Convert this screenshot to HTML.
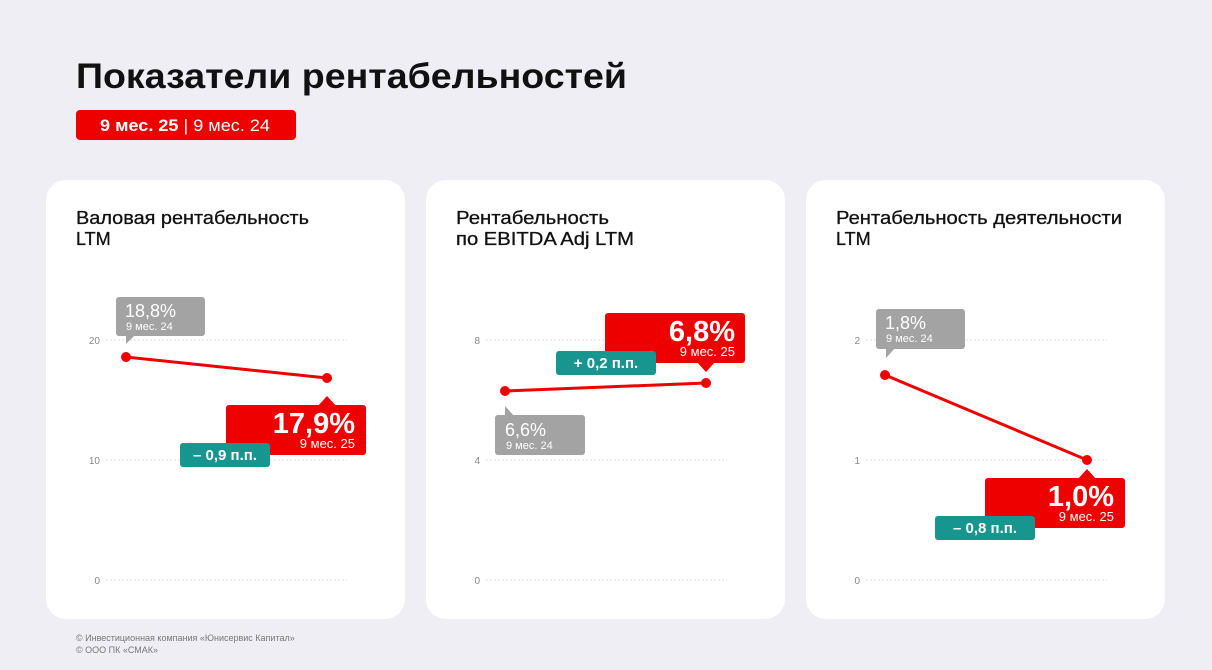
<!DOCTYPE html>
<html><head><meta charset="utf-8"><style>
html,body{margin:0;padding:0;background:#efeef5;}
svg{display:block;font-family:"Liberation Sans",sans-serif;}
</style></head><body>
<svg width="1212" height="670" viewBox="0 0 1212 670" xmlns="http://www.w3.org/2000/svg">
<rect width="1212" height="670" fill="#efeef5"/>
<text x="76" y="88" font-size="35" font-weight="bold" fill="#111" textLength="551" lengthAdjust="spacingAndGlyphs">Показатели рентабельностей</text>
<rect x="76" y="110" width="220" height="30" rx="4" fill="#ee0000"/>
<text x="100" y="131" font-size="17" fill="#fff" textLength="170" lengthAdjust="spacingAndGlyphs"><tspan font-weight="bold">9 мес. 25</tspan> | 9 мес. 24</text>

<g fill="#fff">
<rect x="46" y="180" width="359" height="439" rx="20"/>
<rect x="426" y="180" width="359" height="439" rx="20"/>
<rect x="806" y="180" width="359" height="439" rx="20"/>
</g>

<g font-size="18" fill="#111" stroke="#111" stroke-width="0.3">
<text x="76" y="224" textLength="233" lengthAdjust="spacingAndGlyphs">Валовая рентабельность</text>
<text x="76" y="245">LTM</text>
<text x="456" y="224" textLength="153" lengthAdjust="spacingAndGlyphs">Рентабельность</text>
<text x="456" y="245" textLength="178" lengthAdjust="spacingAndGlyphs">по EBITDA Adj LTM</text>
<text x="836" y="224" textLength="286" lengthAdjust="spacingAndGlyphs">Рентабельность деятельности</text>
<text x="836" y="245">LTM</text>
</g>

<g stroke="#dcdce0" stroke-width="1" stroke-dasharray="2,2">
<line x1="106" y1="340" x2="347" y2="340"/><line x1="106" y1="460" x2="347" y2="460"/><line x1="106" y1="580" x2="347" y2="580"/>
<line x1="486" y1="340" x2="727" y2="340"/><line x1="486" y1="460" x2="727" y2="460"/><line x1="486" y1="580" x2="727" y2="580"/>
<line x1="866" y1="340" x2="1107" y2="340"/><line x1="866" y1="460" x2="1107" y2="460"/><line x1="866" y1="580" x2="1107" y2="580"/>
</g>
<g font-size="10" fill="#888" text-anchor="end">
<text x="100" y="344">20</text><text x="100" y="464">10</text><text x="100" y="584">0</text>
<text x="480" y="344">8</text><text x="480" y="464">4</text><text x="480" y="584">0</text>
<text x="860" y="344">2</text><text x="860" y="464">1</text><text x="860" y="584">0</text>
</g>

<g stroke="#ee0000" stroke-width="3"><line x1="126" y1="357" x2="327" y2="378"/><line x1="505" y1="391" x2="706" y2="383"/><line x1="885" y1="375" x2="1087" y2="460"/></g>
<g fill="#ee0000"><circle cx="126" cy="357" r="5"/><circle cx="327" cy="378" r="5"/><circle cx="505" cy="391" r="5"/><circle cx="706" cy="383" r="5"/><circle cx="885" cy="375" r="5"/><circle cx="1087" cy="460" r="5"/></g>

<g fill="#a3a3a3">
<rect x="116" y="297" width="89" height="39" rx="3"/><polygon points="126,334 126,344 136,334"/>
<rect x="495" y="415" width="90" height="40" rx="3"/><polygon points="505,417 505,406 515,417"/>
<rect x="876" y="309" width="89" height="40" rx="3"/><polygon points="886,347 886,358 896,347"/>
</g>
<g fill="#fff">
<text x="125" y="317" font-size="18">18,8%</text><text x="126" y="330" font-size="11">9 мес. 24</text>
<text x="505" y="436" font-size="18">6,6%</text><text x="506" y="449" font-size="11">9 мес. 24</text>
<text x="885" y="329" font-size="18">1,8%</text><text x="886" y="342" font-size="11">9 мес. 24</text>
</g>

<g fill="#ee0000">
<rect x="226" y="405" width="140" height="50" rx="3"/><polygon points="317,407 327,396 337,407"/>
<rect x="605" y="313" width="140" height="50" rx="3"/><polygon points="696,361 706,372 716,361"/>
<rect x="985" y="478" width="140" height="50" rx="3"/><polygon points="1077,480 1087,469 1097,480"/>
</g>
<g fill="#fff" text-anchor="end">
<text x="355" y="433" font-size="29" font-weight="bold">17,9%</text><text x="355" y="448" font-size="13">9 мес. 25</text>
<text x="735" y="341" font-size="29" font-weight="bold">6,8%</text><text x="735" y="356" font-size="13">9 мес. 25</text>
<text x="1114" y="506" font-size="29" font-weight="bold">1,0%</text><text x="1114" y="521" font-size="13">9 мес. 25</text>
</g>

<g fill="#16968f">
<rect x="180" y="443" width="90" height="24" rx="3"/>
<rect x="556" y="351" width="100" height="24" rx="3"/>
<rect x="935" y="516" width="100" height="24" rx="3"/>
</g>
<g fill="#fff" font-size="15" font-weight="bold" text-anchor="middle">
<text x="225" y="460">– 0,9 п.п.</text>
<text x="606" y="368">+ 0,2 п.п.</text>
<text x="985" y="533">– 0,8 п.п.</text>
</g>

<g font-size="9" fill="#777">
<text x="76" y="641">© Инвестиционная компания «Юнисервис Капитал»</text>
<text x="76" y="653">© ООО ПК «СМАК»</text>
</g>
</svg>
</body></html>
